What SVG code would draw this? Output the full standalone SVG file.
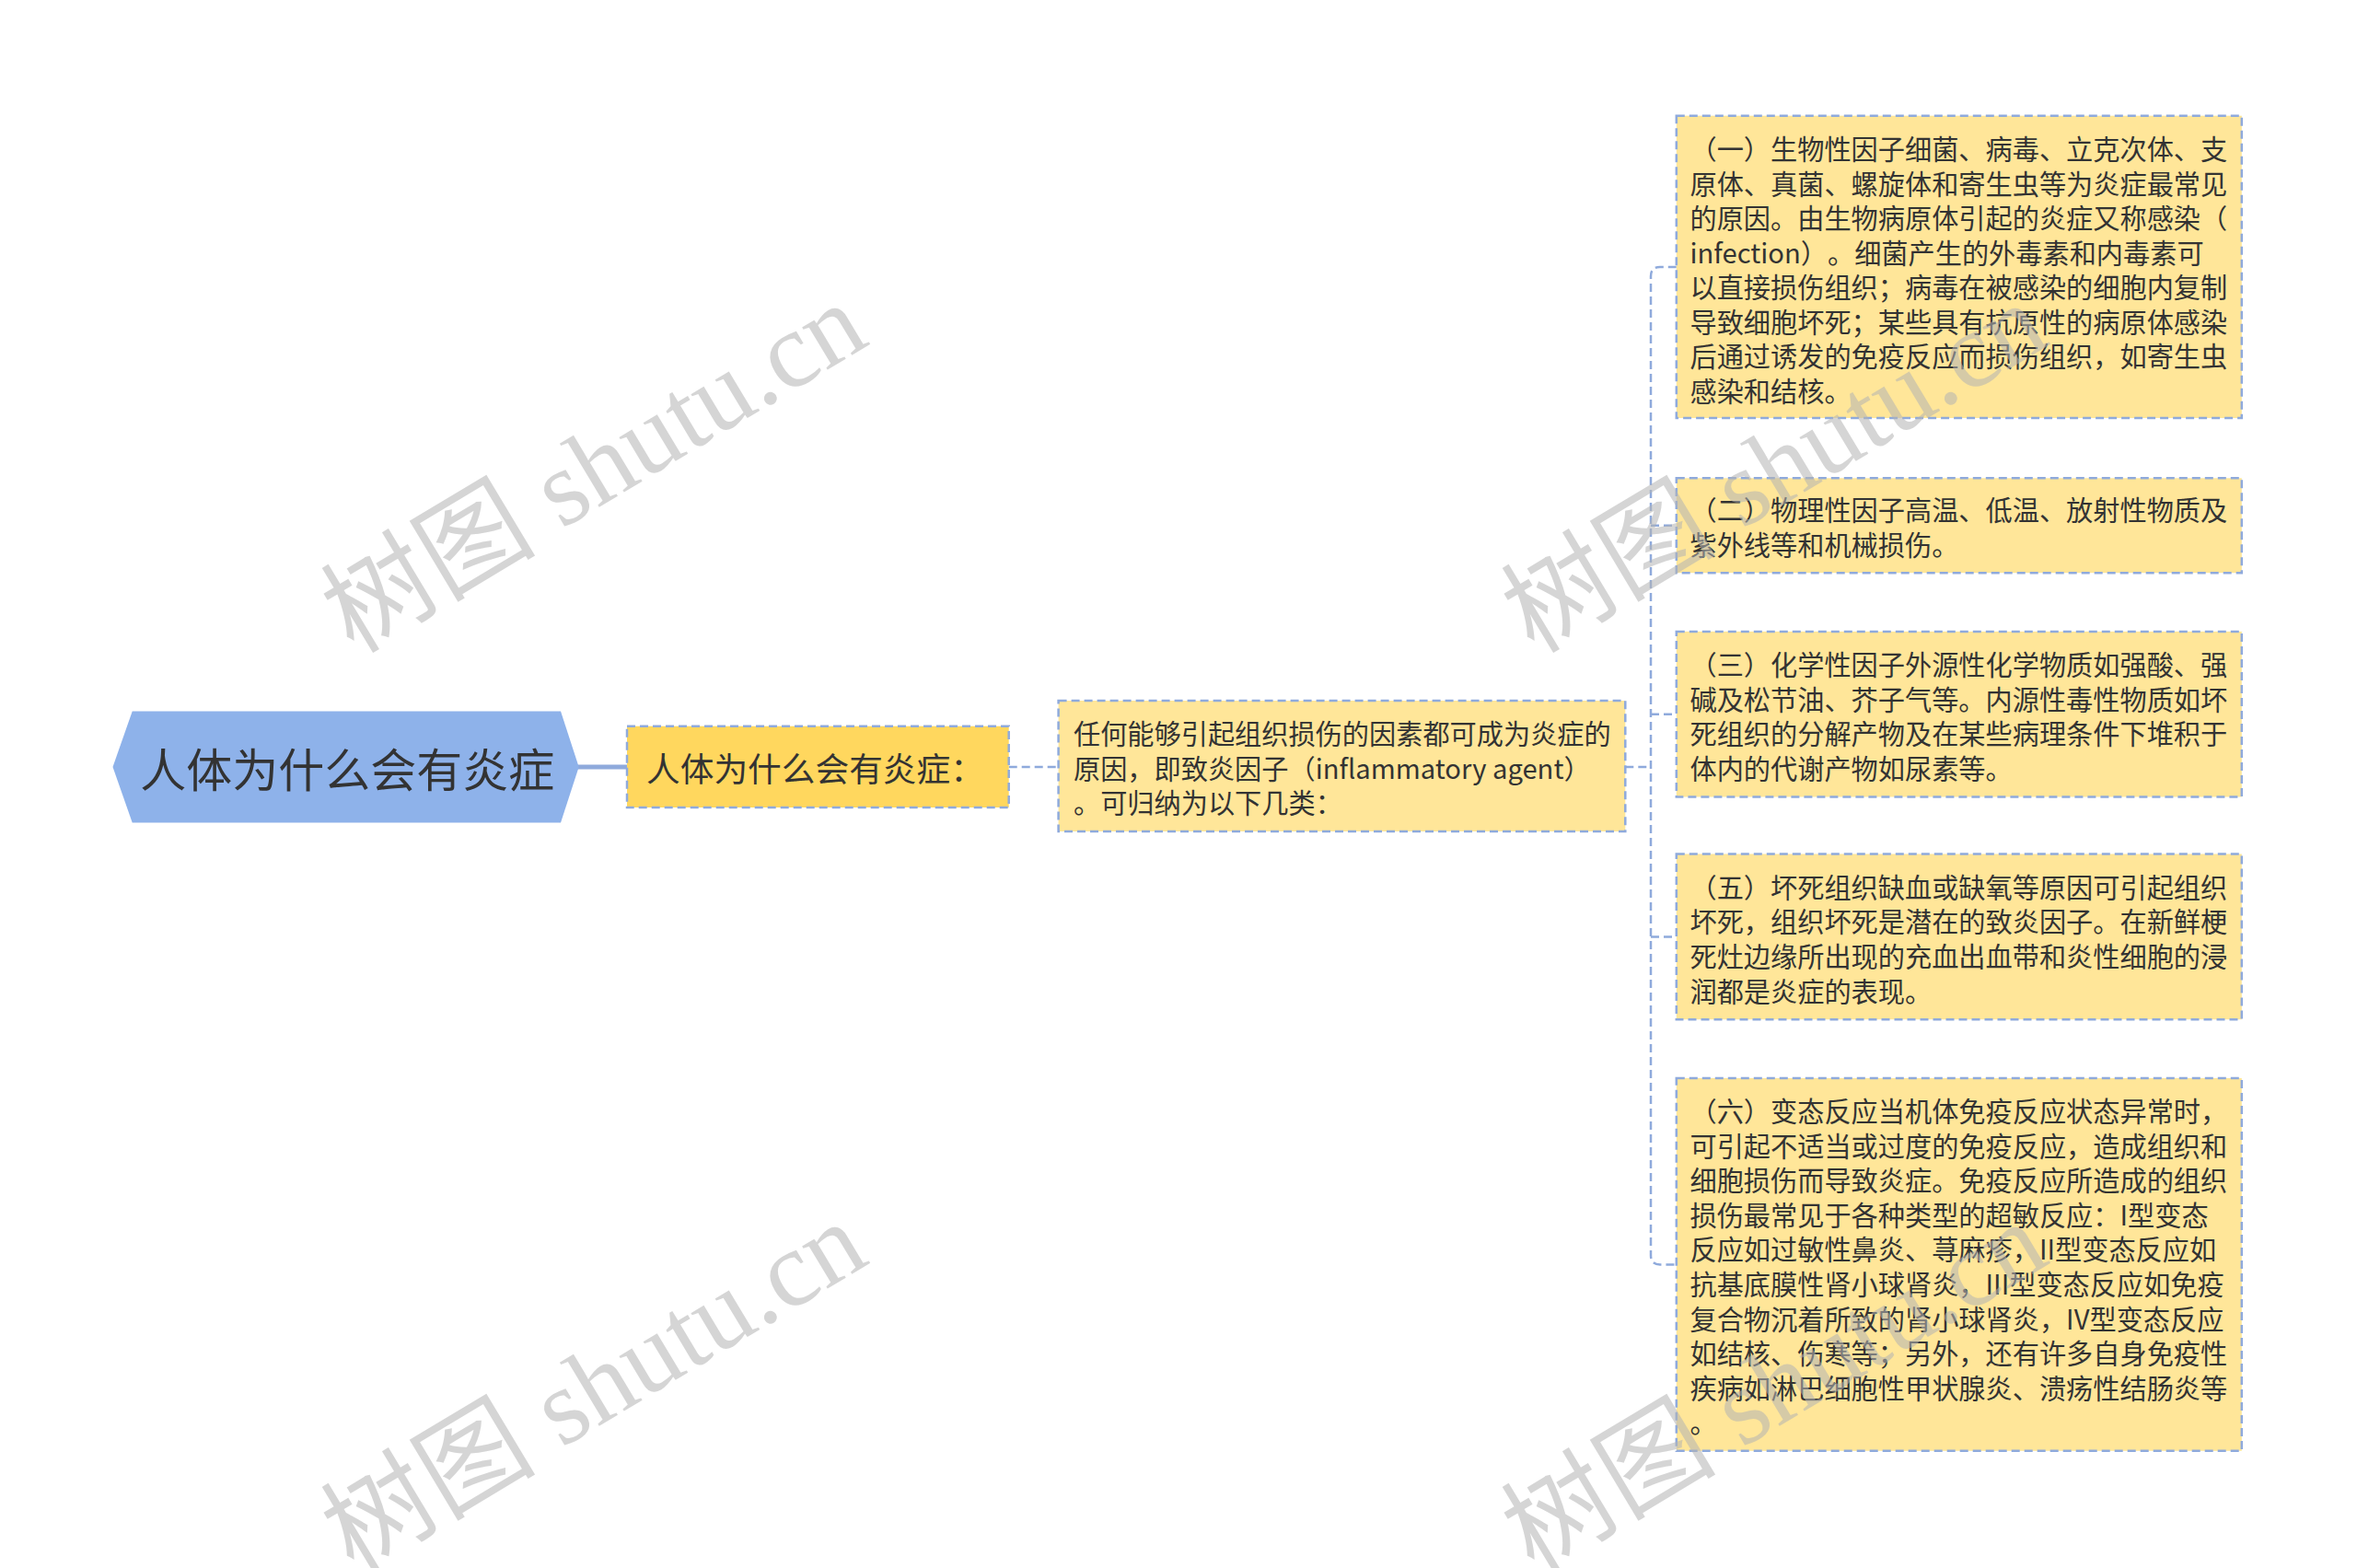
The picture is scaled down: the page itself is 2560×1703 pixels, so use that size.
<svg xmlns="http://www.w3.org/2000/svg" width="2560" height="1703" viewBox="0 0 2560 1703">
<style>
.bg{fill:#ffffff}
.box{fill:#FFE699;stroke:#8FAADC;stroke-width:2.5;stroke-dasharray:9 5}
.box2{fill:#FFD75E;stroke:#8FAADC;stroke-width:2.5;stroke-dasharray:9 5}
.root{fill:#8EB2EA}
.t{font-family:"Noto Sans CJK SC","Noto Sans",sans-serif;fill:#333333;dominant-baseline:central;text-spacing-trim:space-all}
.s{font-size:29.2px}
.conn{fill:none;stroke:#8FAADC;stroke-width:2.5;stroke-dasharray:9 5}
.wm{font-family:"Liberation Serif","Noto Sans CJK SC",serif;font-size:117px;fill:#b4b4b4;opacity:0.55;text-anchor:middle;dominant-baseline:central}
</style>
<rect class="bg" x="0" y="0" width="2560" height="1703"/>
<g id="connectors">
<line x1="625" y1="833" x2="681" y2="833" stroke="#8FAADC" stroke-width="5"/>
<line class="conn" x1="1095.7" y1="833" x2="1149.6" y2="833"/>
<line class="conn" x1="1765.3" y1="833" x2="1793" y2="833"/>
<path class="conn" d="M1820.8,289.9 H1803 Q1793,289.9 1793,299.9 V1363.4 Q1793,1373.4 1803,1373.4 H1820.8"/>
<line class="conn" x1="1793" y1="570.8" x2="1820.8" y2="570.8"/>
<line class="conn" x1="1793" y1="775.7" x2="1820.8" y2="775.7"/>
<line class="conn" x1="1793" y1="1017.4" x2="1820.8" y2="1017.4"/>
</g>
<g id="root">
<polygon class="root" points="122.5,833 143.7,772.4 609,772.4 628.7,833 609,893.6 143.7,893.6"/>
<text class="t" x="377.2" y="833" font-size="50" text-anchor="middle">人体为什么会有炎症</text>
</g>
<g id="node-question">
<rect class="box2" x="681" y="788.7" width="414.7" height="88.3"/>
<text class="t" x="702" y="833" font-size="36.7">人体为什么会有炎症：</text>
</g>
<g id="node-cause">
<rect class="box" x="1149.6" y="761" width="615.7" height="142"/>
<text class="t s" x="1166" y="795.3">任何能够引起组织损伤的因素都可成为炎症的</text>
<text class="t s" x="1166" y="832.9">原因，即致炎因子（inflammatory agent）</text>
<text class="t s" x="1166" y="870.4">。可归纳为以下几类：</text>
</g>
<g id="node-1">
<rect class="box" x="1820.8" y="125.7" width="614" height="328.3"/>
<text class="t s" x="1835.5" y="160">（一）生物性因子细菌、病毒、立克次体、支</text>
<text class="t s" x="1835.5" y="197.6">原体、真菌、螺旋体和寄生虫等为炎症最常见</text>
<text class="t s" x="1835.5" y="235.1">的原因。由生物病原体引起的炎症又称感染（</text>
<text class="t s" x="1835.5" y="272.7">infection）。细菌产生的外毒素和内毒素可</text>
<text class="t s" x="1835.5" y="310.2">以直接损伤组织；病毒在被感染的细胞内复制</text>
<text class="t s" x="1835.5" y="347.8">导致细胞坏死；某些具有抗原性的病原体感染</text>
<text class="t s" x="1835.5" y="385.4">后通过诱发的免疫反应而损伤组织，如寄生虫</text>
<text class="t s" x="1835.5" y="422.9">感染和结核。</text>
</g>
<g id="node-2">
<rect class="box" x="1820.8" y="519.3" width="614" height="102.9"/>
<text class="t s" x="1835.5" y="552">（二）物理性因子高温、低温、放射性物质及</text>
<text class="t s" x="1835.5" y="589.6">紫外线等和机械损伤。</text>
</g>
<g id="node-3">
<rect class="box" x="1820.8" y="685.9" width="614" height="179.6"/>
<text class="t s" x="1835.5" y="720.2">（三）化学性因子外源性化学物质如强酸、强</text>
<text class="t s" x="1835.5" y="757.8">碱及松节油、芥子气等。内源性毒性物质如坏</text>
<text class="t s" x="1835.5" y="795.3">死组织的分解产物及在某些病理条件下堆积于</text>
<text class="t s" x="1835.5" y="832.9">体内的代谢产物如尿素等。</text>
</g>
<g id="node-5">
<rect class="box" x="1820.8" y="927.5" width="614" height="179.7"/>
<text class="t s" x="1835.5" y="961.8">（五）坏死组织缺血或缺氧等原因可引起组织</text>
<text class="t s" x="1835.5" y="999.4">坏死，组织坏死是潜在的致炎因子。在新鲜梗</text>
<text class="t s" x="1835.5" y="1036.9">死灶边缘所出现的充血出血带和炎性细胞的浸</text>
<text class="t s" x="1835.5" y="1074.5">润都是炎症的表现。</text>
</g>
<g id="node-6">
<rect class="box" x="1820.8" y="1170.9" width="614" height="404.9"/>
<text class="t s" x="1835.5" y="1205.2">（六）变态反应当机体免疫反应状态异常时，</text>
<text class="t s" x="1835.5" y="1242.8">可引起不适当或过度的免疫反应，造成组织和</text>
<text class="t s" x="1835.5" y="1280.3">细胞损伤而导致炎症。免疫反应所造成的组织</text>
<text class="t s" x="1835.5" y="1317.9">损伤最常见于各种类型的超敏反应：I型变态</text>
<text class="t s" x="1835.5" y="1355.4">反应如过敏性鼻炎、荨麻疹，II型变态反应如</text>
<text class="t s" x="1835.5" y="1393">抗基底膜性肾小球肾炎，III型变态反应如免疫</text>
<text class="t s" x="1835.5" y="1430.6">复合物沉着所致的肾小球肾炎，IV型变态反应</text>
<text class="t s" x="1835.5" y="1468.1">如结核、伤寒等；另外，还有许多自身免疫性</text>
<text class="t s" x="1835.5" y="1505.7">疾病如淋巴细胞性甲状腺炎、溃疡性结肠炎等</text>
<text class="t s" x="1835.5" y="1543.2">。</text>
</g>
<g id="watermarks">
<text class="wm" transform="translate(645,508) rotate(-31)">树图 shutu.cn</text>
<text class="wm" transform="translate(1927,508) rotate(-31)">树图 shutu.cn</text>
<text class="wm" transform="translate(645,1506) rotate(-31)">树图 shutu.cn</text>
<text class="wm" transform="translate(1927,1506) rotate(-31)">树图 shutu.cn</text>
</g>
</svg>
